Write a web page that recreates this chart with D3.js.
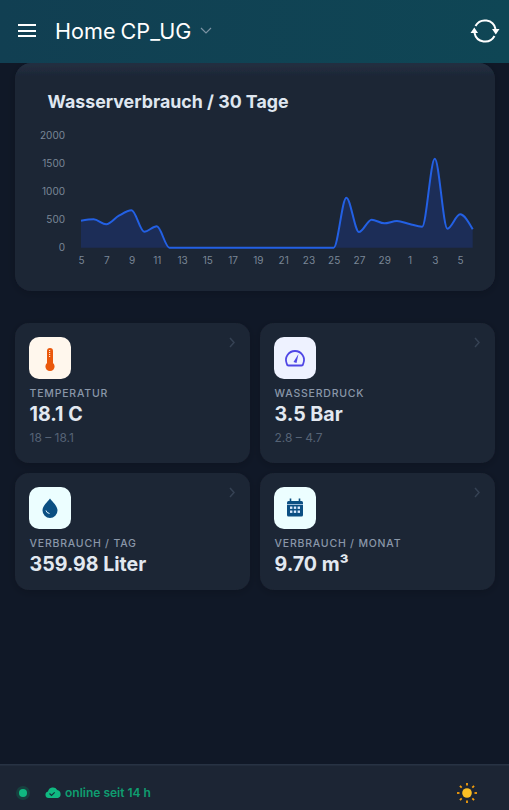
<!DOCTYPE html>
<html><head><meta charset="utf-8">
<script src="https://cdn.jsdelivr.net/npm/d3@7"></script>
<style>
html,body{margin:0;padding:0;background:#101827;overflow:hidden}
svg{display:block}
text{font-family:Inter,"Noto Sans",sans-serif}
</style></head><body>
<svg id="app" width="509" height="810" viewBox="0 0 509 810"></svg>
<script>
const days = [5,6,7,8,9,10,11,12,13,14,15,16,17,18,19,20,21,22,23,24,25,26,27,28,29,30,1,2,3,4,5,6];
const liters = [482,507,418,571,668,286,382,0,0,0,0,0,0,0,0,0,0,0,0,0,0,893,280,500,435,476,423,375,1590,339,596,329];
const yTicks = [0,500,1000,1500,2000];
const chartTitle = "Wasserverbrauch / 30 Tage";
const cardLabels = ["TEMPERATUR","WASSERDRUCK","VERBRAUCH / TAG","VERBRAUCH / MONAT"];
const cardValues = ["18.1 C","3.5 Bar","359.98 Liter","9.70 m³"];
const cardRanges = ["18 – 18.1","2.8 – 4.7","",""];
const svg = d3.select("#app");
const defs = svg.append("defs");
const hg = defs.append("linearGradient").attr("id","hdr").attr("x1",0).attr("x2",1).attr("y1",0).attr("y2",0);
hg.append("stop").attr("offset",0).attr("stop-color","#113f52");
hg.append("stop").attr("offset",1).attr("stop-color","#0f4655");
const sh = defs.append("filter").attr("id","sh").attr("x","-10%").attr("y","-10%").attr("width","120%").attr("height","130%");
sh.append("feDropShadow").attr("dx",0).attr("dy",2).attr("stdDeviation",5).attr("flood-color","#000").attr("flood-opacity",.18);
const tg = defs.append("linearGradient").attr("id","cardTop").attr("x1",0).attr("x2",0).attr("y1",0).attr("y2",1);
tg.append("stop").attr("offset",0).attr("stop-color","#232f41");
tg.append("stop").attr("offset",.07).attr("stop-color","#1c2534");
tg.append("stop").attr("offset",1).attr("stop-color","#1c2534");

svg.append("rect").attr("width",509).attr("height",810).attr("fill","#101827");

// chart card
svg.append("rect").attr("x",15).attr("y",63).attr("width",480).attr("height",228).attr("rx",16).attr("fill","url(#cardTop)").attr("filter","url(#sh)");

// header
svg.append("rect").attr("width",509).attr("height",63).attr("fill","url(#hdr)");
const hb = svg.append("g").attr("stroke","#fff").attr("stroke-width",2);
[25,31,36].forEach(y=>hb.append("line").attr("x1",18).attr("x2",36).attr("y1",y).attr("y2",y));
svg.append("text").attr("x",55).attr("y",39).attr("font-size",21.6).attr("fill","#fff").attr("word-spacing",-1).text("Home CP_UG");
svg.append("path").attr("d","M201 28l5 5 5-5").attr("fill","none").attr("stroke","#7c93a3").attr("stroke-width",1.2);
const sync = svg.append("g").attr("transform","translate(485,31)").attr("fill","none").attr("stroke","#fff").attr("stroke-width",2);
sync.append("path").attr("d","M-9.5 -5 A10.8 10.8 0 0 1 10.5 -2");
sync.append("path").attr("d","M9.5 5 A10.8 10.8 0 0 1 -10.5 2");
sync.append("path").attr("d","M7 -2h7.5l-3.7 5.5z M-14.5 2h7.5l-3.7 -5.5z").attr("fill","#fff").attr("stroke","none");

// chart
svg.append("text").attr("x",47.5).attr("y",108).attr("font-size",17.8).attr("font-weight",700).attr("fill","#dfe6f0").text(chartTitle);
const idx = days.map((d,i)=>i);
const x = d3.scalePoint().domain(idx).range([81,472.7]);
const y = d3.scaleLinear().domain([0,2000]).range([247.7,135.7]);
const curve = d3.curveMonotoneX;
svg.append("path").datum(liters).attr("fill","#1c2d57")
 .attr("d",d3.area().x((d,i)=>x(i)).y0(y(0)).y1(d=>y(d)).curve(curve));
svg.append("path").datum(liters).attr("fill","none").attr("stroke","#2360e4").attr("stroke-width",2)
 .attr("d",d3.line().x((d,i)=>x(i)).y(d=>y(d)).curve(curve));
const axY = svg.append("g").attr("transform","translate(65,0)").call(d3.axisLeft(y).tickValues(yTicks).tickFormat(d3.format("d")).tickSize(0).tickPadding(0));
axY.select(".domain").remove();
axY.selectAll("text").attr("font-size",10).attr("fill","#7a8797").style("font-family","Inter");
const axX = svg.append("g").attr("transform","translate(0,257)").call(d3.axisBottom(x).tickValues(idx.filter(i=>i%2===0)).tickFormat(i=>days[i]).tickSize(0).tickPadding(0));
axX.select(".domain").remove();
axX.selectAll("text").attr("font-size",10).attr("fill","#7a8797").style("font-family","Inter");

// stat cards
const cardX=[15,260,15,260], cardY=[323,323,473,473], cardH=[140,140,117,117];
const iconBg=["#fff7ed","#eef2ff","#ecfeff","#ecfeff"];
cardLabels.forEach((lab,i)=>{
  const g = svg.append("g").attr("transform",`translate(${cardX[i]},${cardY[i]})`);
  g.append("rect").attr("width",235).attr("height",cardH[i]).attr("rx",14).attr("fill","#1c2534").attr("filter","url(#sh)");
  g.append("rect").attr("x",14).attr("y",14).attr("width",42).attr("height",42).attr("rx",10).attr("fill",iconBg[i]);
  g.append("path").attr("d","M215 15l4 4.5-4 4.5").attr("fill","none").attr("stroke","#364254").attr("stroke-width",1.5);
  g.append("text").attr("x",14.5).attr("y",74).attr("font-size",10.5).attr("font-weight",500).attr("letter-spacing",.8).attr("fill","#8a97a9").text(lab);
  g.append("text").attr("x",14.5).attr("y",98).attr("font-size",19.6).attr("font-weight",700).attr("fill","#e2e8f0").text(cardValues[i]);
  if(cardRanges[i]) g.append("text").attr("x",14.5).attr("y",119).attr("font-size",12).attr("fill","#566375").text(cardRanges[i]);
  const ic = g.append("g").attr("transform","translate(35,35)");
  if(i===0){
    ic.append("path").attr("d","M-3 5V-7a3 3 0 0 1 6 0V5a4.6 4.6 0 1 1-6 0z").attr("fill","#ea580c");
    ic.append("path").attr("d","M-.4 -8V-1").attr("stroke","#fde7d6").attr("stroke-width",1.2).attr("stroke-dasharray","1 1");
  } else if(i===1){
    ic.append("path").attr("d","M-6.5 7.5H6.5Q8 7.5 8.3 5.5A9 9 0 1 0 -8.3 5.5Q-8 7.5 -6.5 7.5Z").attr("fill","none").attr("stroke","#4f46e5").attr("stroke-width",1.8);
    ic.append("path").attr("d","M-1.5 4L3.5 -4L1.5 5Z").attr("fill","#4f46e5");
  } else if(i===2){
    ic.append("path").attr("d","M0 -9.5C3 -5.5 7.5 -2 7.5 2.5A7.5 7.5 0 0 1 -7.5 2.5C-7.5 -2 -3 -5.5 0 -9.5Z").attr("fill","#0b4f82");
    ic.append("path").attr("d","M-4 2.5Q-3.5 5 -.5 5.5").attr("fill","none").attr("stroke","#e0f2fe").attr("stroke-width",1);
  } else {
    ic.append("rect").attr("x",-8).attr("y",-7).attr("width",16).attr("height",15.5).attr("rx",1.5).attr("fill","#0b4f82");
    ic.append("path").attr("d","M-4.5 -9.5v3M4.5 -9.5v3").attr("stroke","#0b4f82").attr("stroke-width",1.6);
    ic.append("path").attr("d","M-8 -3.5H8").attr("stroke","#dbeafe").attr("stroke-width",.7);
    [-5,-1.2,2.6].forEach(px=>[-1.5,2.5].forEach(py=>ic.append("rect").attr("x",px).attr("y",py).attr("width",2.4).attr("height",2.4).attr("fill","#dbeafe")));
  }
});

// footer
svg.append("rect").attr("y",765).attr("width",509).attr("height",45).attr("fill","#1c2534");
svg.append("line").attr("x1",0).attr("x2",509).attr("y1",764.8).attr("y2",764.8).attr("stroke","#323e51").attr("stroke-width",1);
svg.append("circle").attr("cx",23).attr("cy",793).attr("r",7).attr("fill","#17403f");
svg.append("circle").attr("cx",23).attr("cy",793).attr("r",4).attr("fill","#10b981");
svg.append("path").attr("d","M48.5 798a3.3 3.3 0 0 1-.5-6.5a5 5 0 0 1 9.2-1.5a4.2 4.2 0 0 1 .8 8z").attr("fill","#10b981");
svg.append("path").attr("d","M49.5 793.5l2 2 3.2-3.2").attr("fill","none").attr("stroke","#12303a").attr("stroke-width",1.2);
svg.append("text").attr("x",65).attr("y",797).attr("font-size",12).attr("font-weight",600).attr("fill","#0f9d70").text("online seit 14 h");
const sun = svg.append("g").attr("transform","translate(467,793)");
sun.append("circle").attr("r",4.8).attr("fill","#fbbf24");
d3.range(8).forEach(k=>sun.append("line").attr("y1",-7.5).attr("y2",-10).attr("stroke","#f59e0b").attr("stroke-width",1.8).attr("transform",`rotate(${k*45})`));
</script>
</body></html>
